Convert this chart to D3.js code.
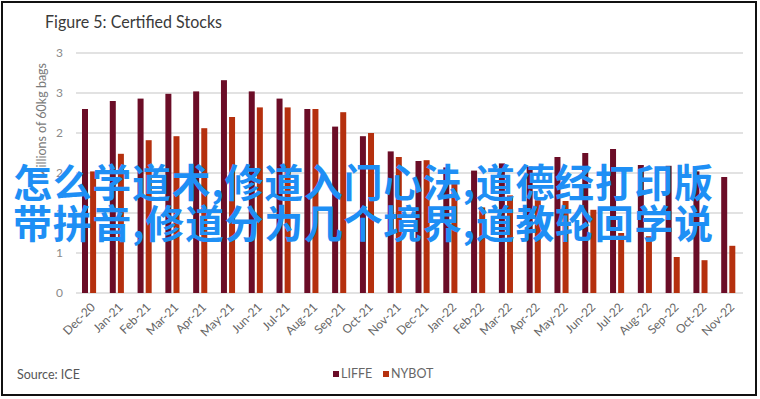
<!DOCTYPE html>
<html>
<head>
<meta charset="utf-8">
<script src="https://cdn.jsdelivr.net/npm/d3@7"></script>
<style>
  body { margin: 0; background: #fff; }
  svg { display: block; }
</style>
</head>
<body>
<div id="chart"></div>
<script>
// months on the x axis
var months = ["Dec-20", "Jan-21", "Feb-21", "Mar-21", "Apr-21", "May-21", "Jun-21", "Jul-21",
  "Aug-21", "Sep-21", "Oct-21", "Nov-21", "Dec-21", "Jan-22", "Feb-22", "Mar-22",
  "Apr-22", "May-22", "Jun-22", "Jul-22", "Aug-22", "Sep-22", "Oct-22", "Nov-22"];

// certified stocks, millions of 60kg bags
var liffe = [2.30, 2.40, 2.43, 2.49, 2.52, 2.66, 2.52, 2.43, 2.30, 2.08, 1.96, 1.77,
  1.65, 1.57, 1.53, 1.62, 1.58, 1.70, 1.75, 1.80, 1.60, 1.59, 1.52, 1.45];
var nybot = [1.52, 1.74, 1.91, 1.96, 2.06, 2.20, 2.32, 2.32, 2.30, 2.26, 2.00, 1.70,
  1.66, 1.38, 1.07, 1.22, 1.16, 1.15, 1.04, 0.75, 0.71, 0.45, 0.41, 0.59];

var seriesNames = ["LIFFE", "NYBOT"];
var yTicks = [0, 0.5, 1, 1.5, 2, 2.5, 3];
var yTickLabels = ["0", "1", "1", "2", "2", "3", "3"];

var watermark = ["怎么学道术,修道入门心法,道德经打印版", "带拼音,修道分为几个境界,道教轮回学说"];

var colors = { LIFFE: "#6b0d27", NYBOT: "#b5300e" };

var W = 760, H = 399;
var plot = { left: 76, right: 743, top: 53, bottom: 293 };

var svg = d3.select("#chart").append("svg")
  .attr("width", W)
  .attr("height", H);

svg.append("rect")
  .attr("width", W).attr("height", H)
  .attr("fill", "#fff");

// outer frame
svg.append("rect")
  .attr("x", 2).attr("y", 2)
  .attr("width", 754).attr("height", 393)
  .attr("fill", "none")
  .attr("stroke", "#111")
  .attr("stroke-width", 2);

svg.append("text")
  .attr("x", 45).attr("y", 28)
  .attr("font-family", "Lato, 'Open Sans', sans-serif")
  .attr("font-size", 16.5)
  .attr("fill", "#3a3a3a")
  .attr("textLength", 177)
  .attr("lengthAdjust", "spacingAndGlyphs")
  .text("Figure 5: Certified Stocks");

var x0 = d3.scaleBand()
  .domain(months)
  .range([plot.left, plot.right])
  .padding(0);

var x1 = d3.scaleBand()
  .domain(seriesNames)
  .range([6, 20.1])
  .paddingInner(0.26)
  .paddingOuter(0);

var y = d3.scaleLinear()
  .domain([0, 3])
  .range([plot.bottom, plot.top]);

// gridlines
svg.append("g")
  .selectAll("line")
  .data(yTicks)
  .join("line")
  .attr("x1", plot.left).attr("x2", plot.right)
  .attr("y1", d => y(d)).attr("y2", d => y(d))
  .attr("stroke", "#d9d9d9")
  .attr("stroke-width", 1.5);

// y tick labels
svg.append("g")
  .selectAll("text")
  .data(yTicks)
  .join("text")
  .attr("x", 63)
  .attr("y", d => y(d))
  .attr("dy", "0.35em")
  .attr("text-anchor", "end")
  .attr("font-family", "Lato, 'Open Sans', sans-serif")
  .attr("font-size", 12)
  .attr("fill", "#8a8a8a")
  .text((d, i) => yTickLabels[i]);

// y axis title
svg.append("text")
  .attr("transform", "translate(46,121) rotate(-90)")
  .attr("text-anchor", "middle")
  .attr("font-family", "Lato, 'Open Sans', sans-serif")
  .attr("font-size", 12.5)
  .attr("fill", "#7a7a7a")
  .text("Millions of 60kg bags");

// bars
var rows = months.map((m, i) => ({ month: m, LIFFE: liffe[i], NYBOT: nybot[i] }));

svg.append("g")
  .selectAll("g")
  .data(rows)
  .join("g")
  .attr("transform", d => "translate(" + x0(d.month) + ",0)")
  .selectAll("rect")
  .data(d => seriesNames.map(k => ({ key: k, value: d[k] })))
  .join("rect")
  .attr("x", d => x1(d.key))
  .attr("width", x1.bandwidth())
  .attr("y", d => y(d.value))
  .attr("height", d => y(0) - y(d.value))
  .attr("fill", d => colors[d.key]);

// x labels, rotated
svg.append("g")
  .selectAll("text")
  .data(months)
  .join("text")
  .attr("transform", d => "translate(" + (x0(d) + x0.bandwidth() / 2 + 3) + ",305) rotate(-45)")
  .attr("text-anchor", "end")
  .attr("dy", "0.35em")
  .attr("font-family", "Lato, 'Open Sans', sans-serif")
  .attr("font-size", 12)
  .attr("fill", "#666")
  .text(d => d);

// legend
var legend = svg.append("g")
  .attr("font-family", "Lato, 'Open Sans', sans-serif")
  .attr("font-size", 12.5)
  .attr("fill", "#666");

var legendX = { LIFFE: 333, NYBOT: 383 };
seriesNames.forEach(function(k) {
  legend.append("rect")
    .attr("x", legendX[k]).attr("y", 371)
    .attr("width", 6).attr("height", 6)
    .attr("fill", colors[k]);
  legend.append("text")
    .attr("x", legendX[k] + 8).attr("y", 374)
    .attr("dy", "0.35em")
    .text(k);
});

svg.append("text")
  .attr("x", 17).attr("y", 375)
  .attr("dy", "0.35em")
  .attr("font-family", "Lato, 'Open Sans', sans-serif")
  .attr("font-size", 12.5)
  .attr("fill", "#555")
  .text("Source: ICE");

// blue overlay text
svg.append("g")
  .selectAll("text")
  .data(watermark)
  .join("text")
  .attr("x", 13)
  .attr("y", (d, i) => 197 + i * 41)
  .attr("font-family", "'Noto Sans CJK SC', sans-serif")
  .attr("font-weight", 700)
  .attr("font-size", 39)
  .attr("fill", "#1e8ff5")
  .attr("textLength", 700)
  .attr("lengthAdjust", "spacing")
  .text(d => d);
</script>
</body>
</html>
